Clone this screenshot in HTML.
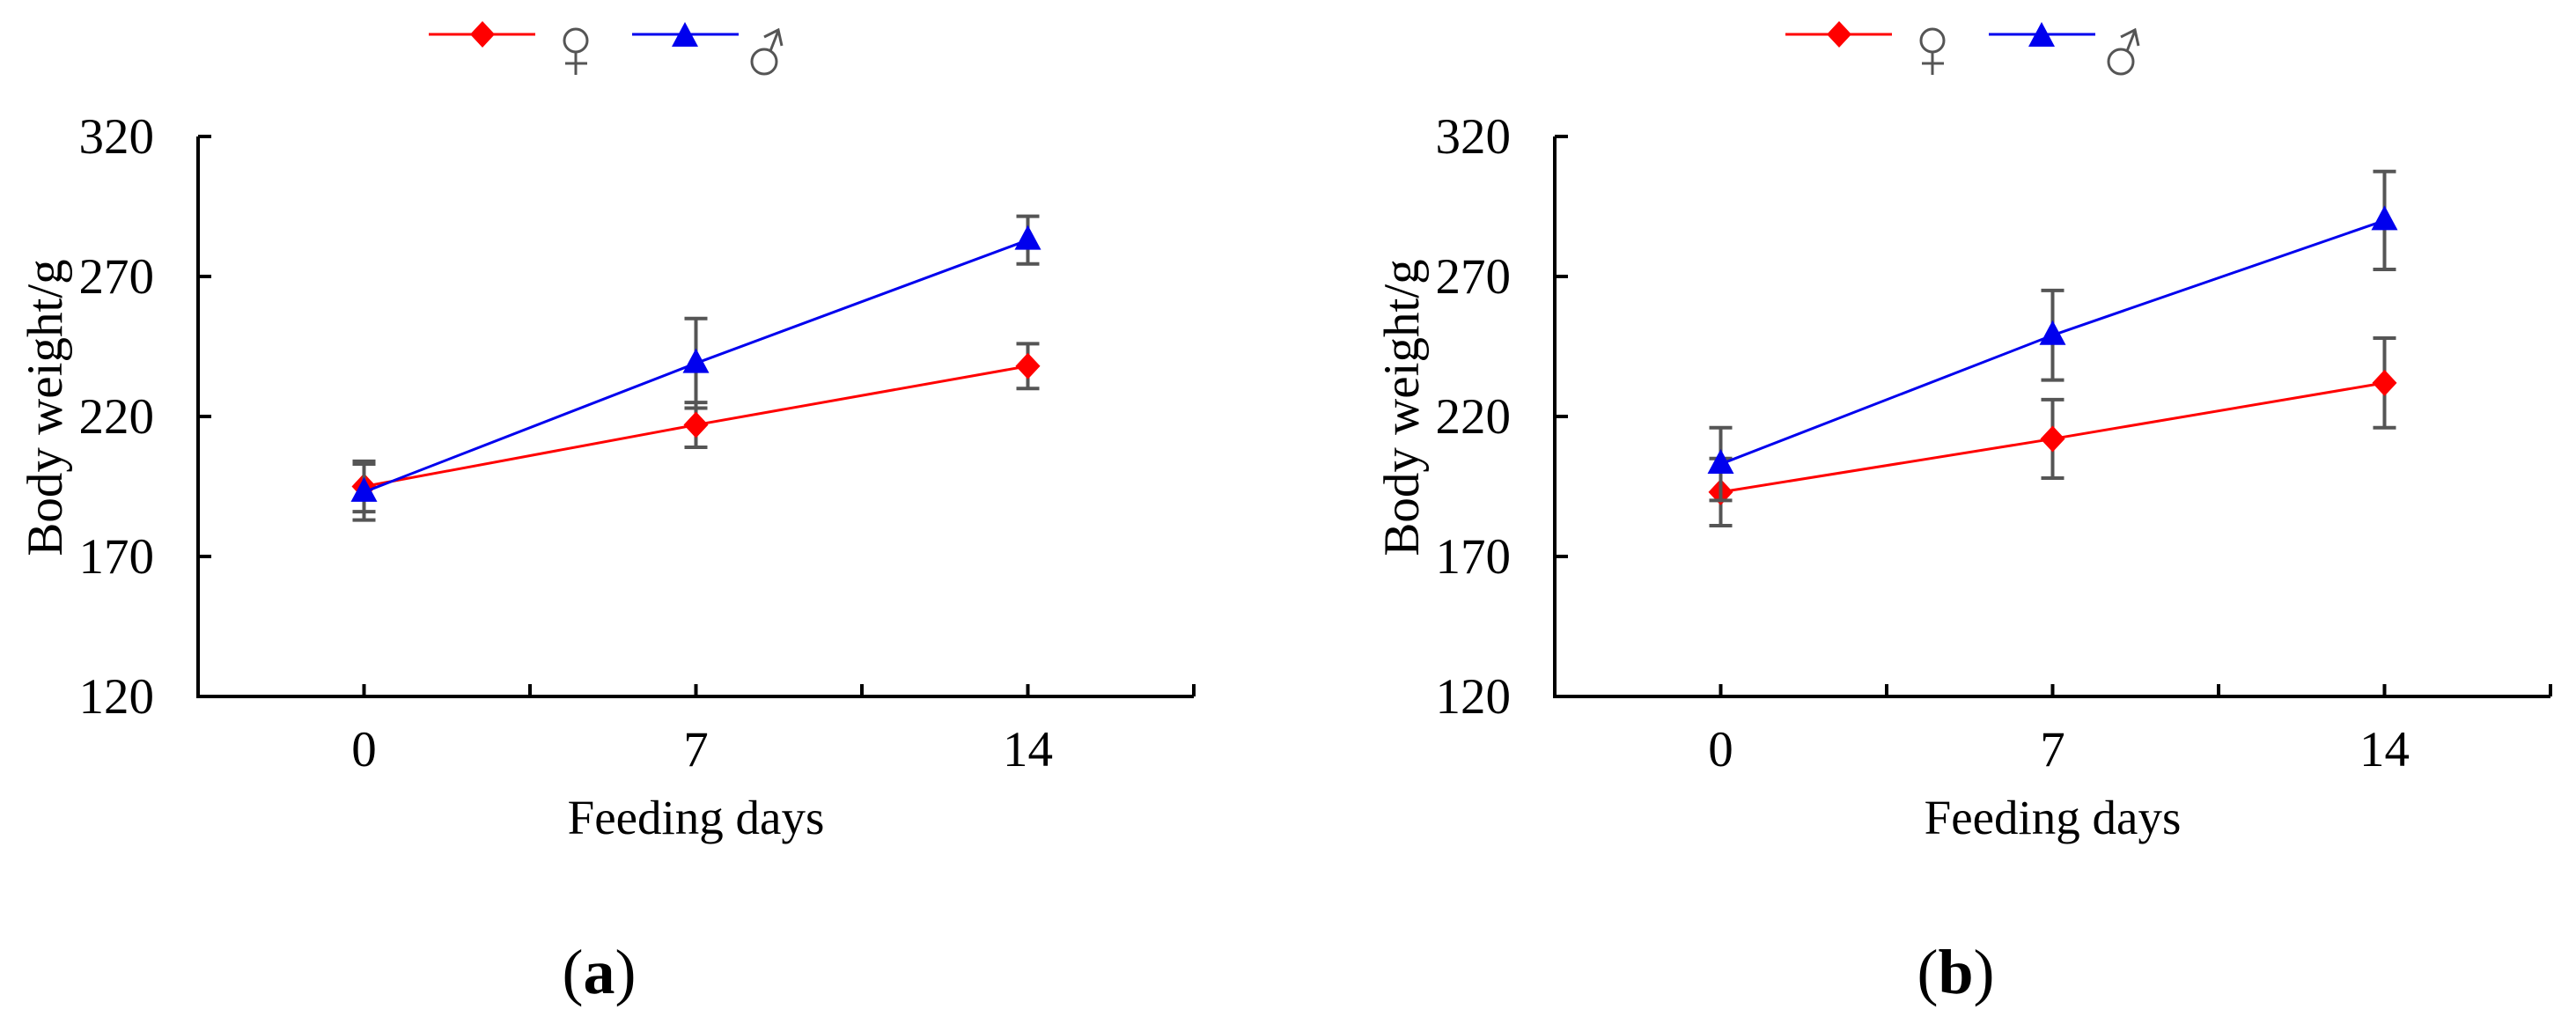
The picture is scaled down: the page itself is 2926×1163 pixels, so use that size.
<!DOCTYPE html>
<html><head><meta charset="utf-8"><style>
html,body{margin:0;padding:0;background:#fff;}
svg{display:block;font-family:"Liberation Serif","DejaVu Serif",serif;}
</style></head><body>
<svg id="fig" width="2926" height="1163" viewBox="0 0 2926 1163" xmlns="http://www.w3.org/2000/svg"></svg>
<script>
const categories = ["0","7","14"];
const yTicks = [120,170,220,270,320];
const femaleA = [195,217,238];
const femaleErrA = [9,8,8];
const maleA = [193,239,283];
const maleErrA = [10,16,8.5];
const femaleB = [193,212,232];
const femaleErrB = [12,14,16];
const maleB = [203,249,290];
const maleErrB = [13,16,17.5];

const NS="http://www.w3.org/2000/svg";
const svg=document.getElementById('fig');
function mk(tag,attrs,parent){const e=document.createElementNS(NS,tag);for(const k in attrs)e.setAttribute(k,attrs[k]);(parent||svg).appendChild(e);return e;}

function panel(ox,label,fem,femErr,mal,malErr,pname){
  const g=mk('g',{});
  
  
  const axL=ox, axR=ox+1131, yTop=155, yBot=791;
  const ymin=120,ymax=320;
  const band=(axR-axL)/categories.length;
  const X=i=>axL+band*(i+0.5);
  const Y=v=>yBot-(v-ymin)/(ymax-ymin)*(yBot-yTop);
  // axes
  const ya=mk('line',{x1:axL,y1:Y(ymax),x2:axL,y2:yBot+2,stroke:'#000','stroke-width':4},g);
  
  
  const xa=mk('line',{x1:axL-2,y1:yBot,x2:axR,y2:yBot,stroke:'#000','stroke-width':4},g);
  
  
  yTicks.forEach(t=>{
    mk('line',{x1:axL,y1:Y(t),x2:axL+15,y2:Y(t),stroke:'#000','stroke-width':4},g);
    const tx=mk('text',{x:axL-50,y:Y(t)+19,'text-anchor':'end','font-size':57,fill:'#000'},g);
    tx.textContent=t;
    
    
  });
  for(let i=0;i<=categories.length*2;i++){
    if(i===0)continue;
    const x=axL+band*i/2;
    mk('line',{x1:x,y1:yBot,x2:x,y2:yBot-14,stroke:'#000','stroke-width':4},g);
  }
  categories.forEach((c,i)=>{
    const tx=mk('text',{x:X(i),y:870,'text-anchor':'middle','font-size':57,fill:'#000'},g);
    tx.textContent=c;
    
    
  });
  const xt=mk('text',{x:X(1),y:947,'text-anchor':'middle','font-size':55,fill:'#000'},g);
  xt.textContent='Feeding days';
  
  
  const yt=mk('text',{x:0,y:0,'text-anchor':'middle','font-size':57,fill:'#000',transform:`translate(${axL-155},${(yTop+yBot)/2-10}) rotate(-90)`},g);
  yt.textContent='Body weight/g';
  
  
  const pl=mk('text',{x:X(1)-110,y:1128,'text-anchor':'middle','font-size':72,fill:'#000'},g);
  pl.innerHTML='(<tspan font-weight="bold">'+label+'</tspan>)';
  
  

  function series(vals,errs,color,shape,name){
    const sg=mk('g',{},g);
    
    
    const pts=vals.map((v,i)=>X(i)+','+Y(v)).join(' ');
    mk('polyline',{points:pts,fill:'none',stroke:color,'stroke-width':3},sg);
    vals.forEach((v,i)=>{
      const x=X(i);
      const eb=mk('g',{stroke:'#555','stroke-width':4},sg);
      
      
      mk('line',{x1:x,y1:Y(v+errs[i]),x2:x,y2:Y(v-errs[i])},eb);
      mk('line',{x1:x-13,y1:Y(v+errs[i]),x2:x+13,y2:Y(v+errs[i])},eb);
      mk('line',{x1:x-13,y1:Y(v-errs[i]),x2:x+13,y2:Y(v-errs[i])},eb);
    });
    vals.forEach((v,i)=>{
      const x=X(i),y=Y(v);
      let m;
      if(shape==='diamond') m=mk('polygon',{points:`${x},${y-15} ${x+14},${y} ${x},${y+15} ${x-14},${y}`,fill:color},sg);
      else m=mk('polygon',{points:`${x},${y-17} ${x+15},${y+11} ${x-15},${y+11}`,fill:color},sg);
      
      
    });
  }
  series(fem,femErr,'#ff0000','diamond','female-series');
  series(mal,malErr,'#0000ee','triangle','male-series');

  // legend
  const lg=mk('g',{},g);
  
  
  const lo=ox-225;
  mk('line',{x1:lo+487,y1:39,x2:lo+608,y2:39,stroke:'#ff0000','stroke-width':3},lg);
  mk('polygon',{points:`${lo+548},${24} ${lo+562},${39} ${lo+548},${54} ${lo+534},${39}`,fill:'#ff0000'},lg);
  const f=mk('g',{stroke:'#555','stroke-width':3,fill:'none'},lg);
  
  
  mk('circle',{cx:lo+654,cy:46,r:13},f);
  mk('line',{x1:lo+654,y1:59,x2:lo+654,y2:85},f);
  mk('line',{x1:lo+642,y1:72,x2:lo+667,y2:72},f);
  mk('line',{x1:lo+718,y1:39,x2:lo+839,y2:39,stroke:'#0000ee','stroke-width':3},lg);
  mk('polygon',{points:`${lo+778},${25} ${lo+793},${53} ${lo+763},${53}`,fill:'#0000ee'},lg);
  const mg=mk('g',{stroke:'#555','stroke-width':3,fill:'none'},lg);
  
  
  mk('circle',{cx:lo+868,cy:70,r:14},mg);
  mk('line',{x1:lo+875,y1:58,x2:lo+884,y2:35},mg);
  mk('polyline',{points:`${lo+868},${42} ${lo+884},${34} ${lo+888},${52}`},mg);
  const ft=mk('text',{x:lo+654,y:80,'font-size':1,fill:'none'},lg);
  ft.textContent='♀ ♂';
}
panel(225,'a',femaleA,femaleErrA,maleA,maleErrA,'panel-a');
panel(1766,'b',femaleB,femaleErrB,maleB,maleErrB,'panel-b');
</script>
</body></html>
